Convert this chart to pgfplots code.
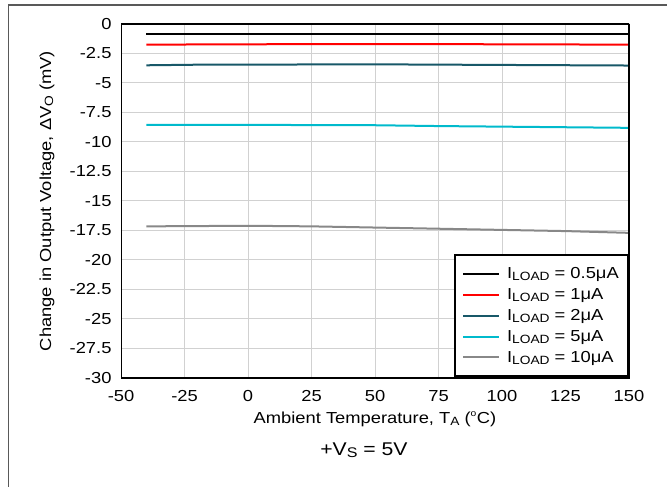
\documentclass[border=0pt]{standalone}
\usepackage{pgfplots}
\pgfplotsset{compat=1.18}
\usepackage{fontspec}
\setmainfont{Liberation Sans}[FakeStretch=1.15]
\definecolor{cTeal}{RGB}{24,88,104}
\definecolor{cCyan}{RGB}{0,186,204}
\definecolor{cGray}{RGB}{136,136,136}
\newcommand\sub[1]{\raisebox{-2bp}{\fontsize{12}{12}\selectfont #1}}
\newcommand\subb[1]{\raisebox{-2.5bp}{\fontsize{14}{14}\selectfont #1}}
\begin{document}
\begin{tikzpicture}[x=1bp,y=1bp]
\path[use as bounding box] (0,0) rectangle (667,487);
\draw[line width=1.2bp, black!65] (8.5,0) -- (8.5,482) -- (667,482);
\begin{axis}[
  at={(121bp,109bp)}, anchor=south west,
  scale only axis, width=508bp, height=354bp,
  xmin=-50, xmax=150, ymin=-30, ymax=0,
  xtick={-50,-25,0,25,50,75,100,125,150},
  xticklabels={-50,-25,0,25,50,75,100,125,150},
  ytick={-30,-27.5,-25,-22.5,-20,-17.5,-15,-12.5,-10,-7.5,-5,-2.5,0},
  yticklabels={-30,-27.5,-25,-22.5,-20,-17.5,-15,-12.5,-10,-7.5,-5,-2.5,0},
  major tick length=0pt,
  grid=major,
  grid style={line width=1bp, color=black!18},
  tick label style={font=\fontsize{16}{18}\selectfont},
  yticklabel style={xshift=-6bp},
  xticklabel style={yshift=-9bp},
  label style={font=\fontsize{16}{18}\selectfont},
  xlabel={Ambient Temperature, T\sub{A} (\textsuperscript{\fontsize{9}{9}\selectfont o}C)},
  ylabel={Change in Output Voltage, ΔV\sub{O} (mV)},
  xlabel style={at={(axis description cs:0.5,0)}, anchor=center, yshift=-41bp},
  ylabel style={at={(axis description cs:0,0.5)}, anchor=center, yshift=74bp},
  legend style={at={(rel axis cs:1,0)}, anchor=south east, draw=black, line width=2.5bp,
    font=\fontsize{16}{18}\selectfont, row sep=4.3bp, inner xsep=7bp, inner ysep=11bp},
  legend cell align=left,
  legend image code/.code={\draw[#1, line width=2bp] (0bp,0bp) -- (36bp,0bp); \path (41bp,0bp);},
  every axis plot/.append style={line width=2bp},
]
\addplot[black] coordinates {(-40,-0.85) (0,-0.85) (50,-0.85) (100,-0.85) (150,-0.85)};
\addlegendentry{I\sub{LOAD} = 0.5μA}
\addplot[red] coordinates {(-40,-1.75) (0,-1.72) (50,-1.7) (100,-1.72) (150,-1.75)};
\addlegendentry{I\sub{LOAD} = 1μA}
\addplot[cTeal] coordinates {(-40,-3.5) (-20,-3.45) (50,-3.42) (100,-3.47) (150,-3.52)};
\addlegendentry{I\sub{LOAD} = 2μA}
\addplot[cCyan] coordinates {(-40,-8.55) (0,-8.55) (50,-8.58) (75,-8.65) (100,-8.7) (125,-8.75) (150,-8.8)};
\addlegendentry{I\sub{LOAD} = 5μA}
\addplot[cGray] coordinates {(-40,-17.15) (0,-17.1) (25,-17.15) (50,-17.25) (75,-17.35) (100,-17.45) (125,-17.55) (150,-17.7)};
\addlegendentry{I\sub{LOAD} = 10μA}
\draw[line width=2.5bp, black] (rel axis cs:0,0) rectangle (rel axis cs:1,1);
\end{axis}
\node[font=\fontsize{18.5}{22}\selectfont] at (364,37) {+V\subb{S} = 5V};
\end{tikzpicture}
\end{document}
